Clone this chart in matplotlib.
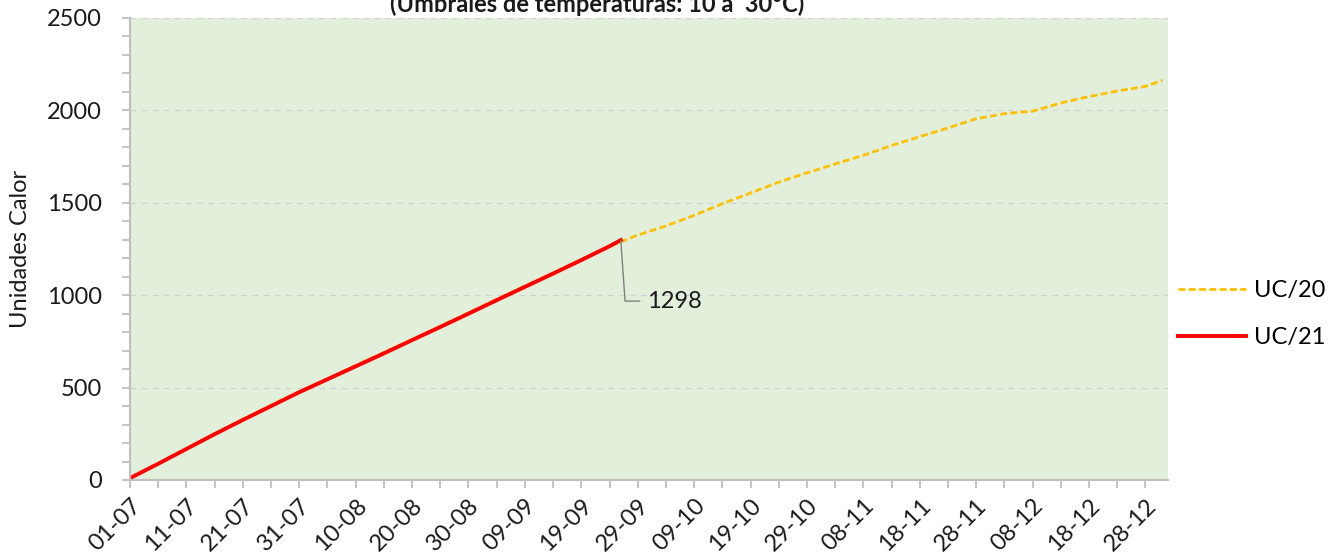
import matplotlib
matplotlib.use("Agg")
import matplotlib.pyplot as plt
import matplotlib.dates as mdates
import pandas as pd

plt.rcParams['font.family'] = ['Lato', 'DejaVu Sans']

# Heat units (UC) accumulated from 1 July
uc21_dates = ['2021-07-01', '2021-07-06', '2021-07-11', '2021-07-16', '2021-07-21',
              '2021-07-26', '2021-07-31', '2021-08-05', '2021-08-10', '2021-08-15',
              '2021-08-20', '2021-08-25', '2021-08-30', '2021-09-04', '2021-09-09',
              '2021-09-14', '2021-09-19', '2021-09-24', '2021-09-26']
uc21_values = [10, 88, 168, 248, 325, 400, 475, 545, 615, 685, 757, 828, 900, 973,
               1045, 1117, 1190, 1265, 1298]

uc20_dates = ['2021-07-01', '2021-07-06', '2021-07-11', '2021-07-16', '2021-07-21',
              '2021-07-26', '2021-07-31', '2021-08-05', '2021-08-10', '2021-08-15',
              '2021-08-20', '2021-08-25', '2021-08-30', '2021-09-04', '2021-09-09',
              '2021-09-14', '2021-09-19', '2021-09-24', '2021-09-29', '2021-10-04',
              '2021-10-09', '2021-10-14', '2021-10-19', '2021-10-24', '2021-10-29',
              '2021-11-03', '2021-11-08', '2021-11-13', '2021-11-18', '2021-11-23',
              '2021-11-28', '2021-12-03', '2021-12-08', '2021-12-13', '2021-12-18',
              '2021-12-23', '2021-12-28', '2021-12-31']
uc20_values = [10, 90, 170, 250, 328, 405, 478, 548, 620, 690, 760, 832, 905, 978,
               1050, 1120, 1193, 1265, 1325, 1375, 1432, 1495, 1553, 1612, 1662,
               1710, 1757, 1810, 1858, 1905, 1955, 1982, 1996, 2040, 2075, 2105,
               2130, 2162]

x_start, x_end = '2021-07-01', '2022-01-01'
last_label = '1298'

fig = plt.figure(figsize=(13.34, 5.55), dpi=100)
ax = fig.add_axes([130/1334, 1 - 480/555, (1168 - 130)/1334, (480 - 18)/555])
ax.set_facecolor('#e2efda')

d20 = pd.to_datetime(uc20_dates)
d21 = pd.to_datetime(uc21_dates)
ax.plot(d20, uc20_values, color='#ffc000', lw=2.0, dashes=(2.5, 1.2), label='UC/20')
ax.plot(d21, uc21_values, color='#ff0000', lw=2.8, label='UC/21')

ax.set_xlim(pd.Timestamp(x_start), pd.Timestamp(x_end))
ax.set_ylim(0, 2500)
ax.set_yticks(range(0, 2501, 500))
ax.set_yticks(range(0, 2501, 100), minor=True)
ax.grid(axis='y', which='major', color='#d0d0d8', ls=(0, (5, 5)), lw=0.8)

major = pd.date_range(x_start, periods=19, freq='10D')
minor = pd.date_range(x_start, periods=37, freq='5D')
ax.set_xticks(major)
ax.set_xticks(minor, minor=True)
ax.xaxis.set_major_formatter(mdates.DateFormatter('%d-%m'))
for lab in ax.get_xticklabels():
    lab.set_rotation(45)
    lab.set_ha('right')
    lab.set_rotation_mode('anchor')

for s in ['top', 'right']:
    ax.spines[s].set_visible(False)
for s in ['left', 'bottom']:
    ax.spines[s].set_color('#bfbfbf')
    ax.spines[s].set_linewidth(1.5)
ax.tick_params(which='both', color='#bfbfbf', width=1.3, length=6, direction='out')
ax.tick_params(axis='both', which='major', labelsize=17, labelcolor='#1a1a1a')
ax.tick_params(axis='y', pad=14)
ax.tick_params(axis='x', pad=5)

ax.set_ylabel('Unidades Calor', fontsize=17, color='#1a1a1a', labelpad=12)

ax.annotate(last_label, xy=(d21[-1], uc21_values[-1]), xytext=(26, -61),
            textcoords='offset pixels', fontsize=17, color='#1a1a1a',
            ha='left', va='center',
            arrowprops=dict(arrowstyle='-', color='#808080', lw=1.0,
                            shrinkA=3, shrinkB=0,
                            connectionstyle='angle,angleA=0,angleB=94'))

fig.text(597/1334, 1 - 12/555, '(Umbrales de temperaturas: 10 a  30°C)',
         ha='center', va='baseline', fontsize=17, fontweight='bold', color='#1a1a1a')

fig.legend(loc='center left', bbox_to_anchor=(1178/1334, 1 - 314/555),
           frameon=False, fontsize=17, handlelength=2.9, handletextpad=0.3,
           labelspacing=1.1, borderpad=0, borderaxespad=0)

fig.savefig('out.png', dpi=100)
